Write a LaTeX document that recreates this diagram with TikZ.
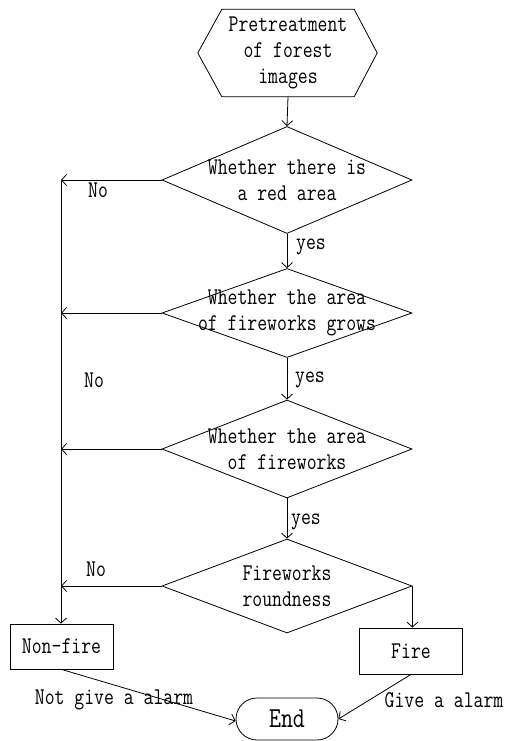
\documentclass[tikz,border=0pt]{standalone}
\usepackage{fontspec}
\setmainfont[FakeStretch=0.8]{Latin Modern Mono}
\usetikzlibrary{shapes.geometric,shapes.misc,arrows.meta}
\begin{document}
\begin{tikzpicture}[x=1pt,y=-1pt,
  every node/.style={font=\fontsize{24}{26}\selectfont},
  arr/.style={-{Straight Barb[length=5pt,width=11pt]}},
  line/.style={line width=0.8pt},
  dec/.style={draw,line width=0.8pt,diamond,minimum width=250pt,inner sep=0pt,align=center},
  box/.style={draw,line width=0.8pt,rectangle,minimum width=103pt,minimum height=45pt,inner sep=0pt},
  lbl/.style={inner sep=0pt}
]
\useasboundingbox (0,0) rectangle (507,741);
\fill[white] (0,0) rectangle (507,741);
% start hexagon
\node[rectangle,minimum width=132pt,minimum height=87pt,inner sep=0pt,align=center] (hex) at (288,53) {Pretreatment\\of forest\\images};
\draw[line] (hex.north west) -- (hex.north east) -- ([xshift=23pt]hex.east) -- (hex.south east) -- (hex.south west) -- ([xshift=-24pt]hex.west) -- cycle;
% decisions
\node[dec,minimum height=107pt,label={[align=center,lbl]center:Whether there is\\a red area}] (d1) at (287,180) {};
\node[dec,minimum height=89pt,label={[align=center,lbl]center:Whether the area\\of fireworks grows}] (d2) at (287,313) {};
\node[dec,minimum height=98pt,label={[align=center,lbl]center:Whether the area\\of fireworks}] (d3) at (287,449) {};
\node[dec,minimum height=94pt,label={[align=center,lbl]center:Fireworks\\roundness}] (d4) at (287,586) {};
% outcomes
\node[box] (nonfire) at (61.5,646.5) {Non-fire};
\node[box,minimum height=46pt] (fire) at (411,651) {Fire};
\node[draw,line width=0.8pt,rounded rectangle,minimum width=102pt,minimum height=42pt,inner sep=0pt,font=\fontsize{29}{30}\selectfont] (end) at (287,719) {End};
% left collector line
\coordinate (ltop) at (61,181);
% connectors
\draw[line,arr] (hex.south) -- (d1.north);
\draw[line,arr] (d1.south) -- (d2.north);
\draw[line,arr] (d2.south) -- (d3.north);
\draw[line,arr] (d3.south) -- (d4.north);
\draw[line,arr] (d1.west) -- (d1.west -| ltop);
\draw[line,arr] (d2.west) -- (d2.west -| ltop);
\draw[line,arr] (d3.west) -- (d3.west -| ltop);
\draw[line,arr] (d4.west) -- (d4.west -| ltop);
\draw[line,arr] (ltop) -- (ltop |- nonfire.north);
\draw[line,arr] (d4.east) -- (d4.east |- fire.north);
\draw[line,arr] (nonfire.south) -- ([yshift=-2pt]end.west);
\draw[line,arr] (fire.south) -- (end.east);
% labels
\node[lbl] (no1) at (98,190) {No};
\node[lbl] (yes1) at (311,247) {yes};
\node[lbl] (no2) at (94,380) {No};
\node[lbl] (yes2) at (310,380) {yes};
\node[lbl] (yes3) at (306,522) {yes};
\node[lbl] (no4) at (96,569) {No};
\node[lbl] (nga) at (114,700) {Not give a alarm};
\node[lbl] (ga) at (444,700) {Give a alarm};
\end{tikzpicture}
\end{document}
